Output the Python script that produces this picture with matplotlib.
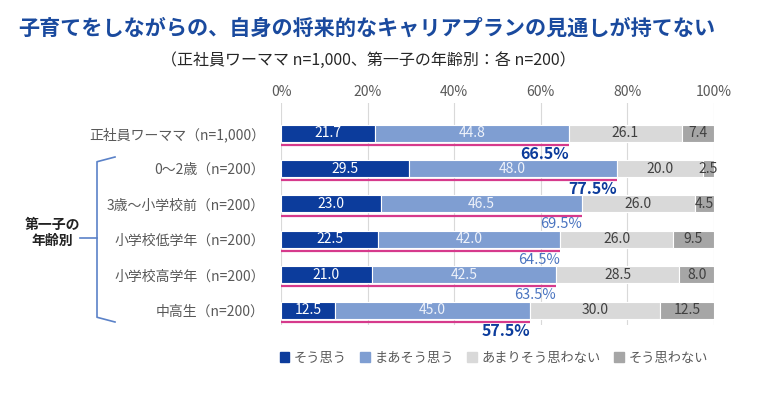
import matplotlib
matplotlib.use("Agg")
import matplotlib.pyplot as plt
from matplotlib.patches import Patch
import numpy as np

plt.rcParams['font.family'] = ['Noto Sans CJK JP', 'DejaVu Sans']

# data
categories = ['正社員ワーママ（n=1,000）', '0～2歳（n=200）', '3歳～小学校前（n=200）',
              '小学校低学年（n=200）', '小学校高学年（n=200）', '中高生（n=200）']
sou = [21.7, 29.5, 23.0, 22.5, 21.0, 12.5]
maa = [44.8, 48.0, 46.5, 42.0, 42.5, 45.0]
amari = [26.1, 20.0, 26.0, 26.0, 28.5, 30.0]
omowanai = [7.4, 2.5, 4.5, 9.5, 8.0, 12.5]
totals = [66.5, 77.5, 69.5, 64.5, 63.5, 57.5]
bold_rows = [0, 1, 5]
series_names = ['そう思う', 'まあそう思う', 'あまりそう思わない', 'そう思わない']

colors = ['#0C3C9C', '#7F9ED2', '#D9D9D9', '#A6A6A6']
txt_colors = ['white', '#EEF2FA', '#404040', '#404040']

fig = plt.figure(figsize=(7.66, 3.94), dpi=100)
ax = fig.add_axes([281/766, 1-325/394, (714-281)/766, (325-103)/394])

y = np.arange(len(categories))
left = np.zeros(len(categories))
for vals, c, tc in zip([sou, maa, amari, omowanai], colors, txt_colors):
    ax.barh(y, vals, left=left, height=0.48, color=c, edgecolor='white', linewidth=0.8, zorder=3)
    for i, v in enumerate(vals):
        ax.text(left[i] + v/2, y[i], f'{v:.1f}', ha='center', va='center',
                color=tc, fontsize=10, zorder=4)
    left = left + np.array(vals)

for i, t in enumerate(totals):
    ax.plot([0, t], [y[i]+0.33, y[i]+0.33], color='#D63A8C', lw=1.6, zorder=4,
            solid_capstyle='butt')
    if i in bold_rows:
        ax.text(t, y[i]+0.58, f'{t}%', ha='right', va='center', color='#0C3C9C',
                fontsize=11.5, fontweight='bold', zorder=5)
    else:
        ax.text(t, y[i]+0.58, f'{t}%', ha='right', va='center', color='#4A74C0',
                fontsize=10.5, zorder=5)

ax.set_xlim(0, 100)
ax.set_ylim(5.42, -0.85)
ax.set_xticks(range(0, 101, 20))
ax.set_xticklabels([f'{v}%' for v in range(0, 101, 20)], color='#595959', fontsize=10)
ax.xaxis.tick_top()
ax.tick_params(axis='x', length=0, pad=3)
ax.set_yticks(y)
ax.set_yticklabels(categories, color='#595959', fontsize=10)
ax.tick_params(axis='y', length=0, pad=11.5)
ax.grid(axis='x', color='#D9D9D9', lw=0.8, zorder=0)
for s in ax.spines.values():
    s.set_visible(False)

# title
fig.text(18/766, 1-28/394, '子育てをしながらの、自身の将来的なキャリアプランの見通しが持てない',
         color='#1A4A9E', fontsize=15.2, fontweight='bold', ha='left', va='center')
fig.text(368/766, 1-60/394, '（正社員ワーママ n=1,000、第一子の年齢別：各 n=200）',
         color='#262626', fontsize=11.5, ha='center', va='center')

# bracket
bx = 115/766
y_top = 1-157/394
y_bot = 1-322/394
y_mid = 1-238/394
br = '#5B82C8'
fig.add_artist(plt.Line2D([bx, 97/766, 97/766, bx], [y_top, y_top-0.012, y_bot+0.012, y_bot],
                          color=br, lw=1.2))
fig.add_artist(plt.Line2D([80/766, 97/766], [y_mid, y_mid], color=br, lw=1.2))
fig.text(52/766, 1-233/394, '第一子の\n年齢別', ha='center', va='center', fontsize=10,
         fontweight='bold', color='#222222', linespacing=1.2)

handles = [Patch(color=c) for c in colors]
leg = fig.legend(handles, series_names, loc='center', bbox_to_anchor=(494/766, 1-358/394),
                 ncol=4, frameon=False, fontsize=9.5, handlelength=0.7, handleheight=0.7,
                 handletextpad=0.4, columnspacing=1.0)
for t in leg.get_texts():
    t.set_color('#595959')

fig.savefig('out.png', dpi=100)
